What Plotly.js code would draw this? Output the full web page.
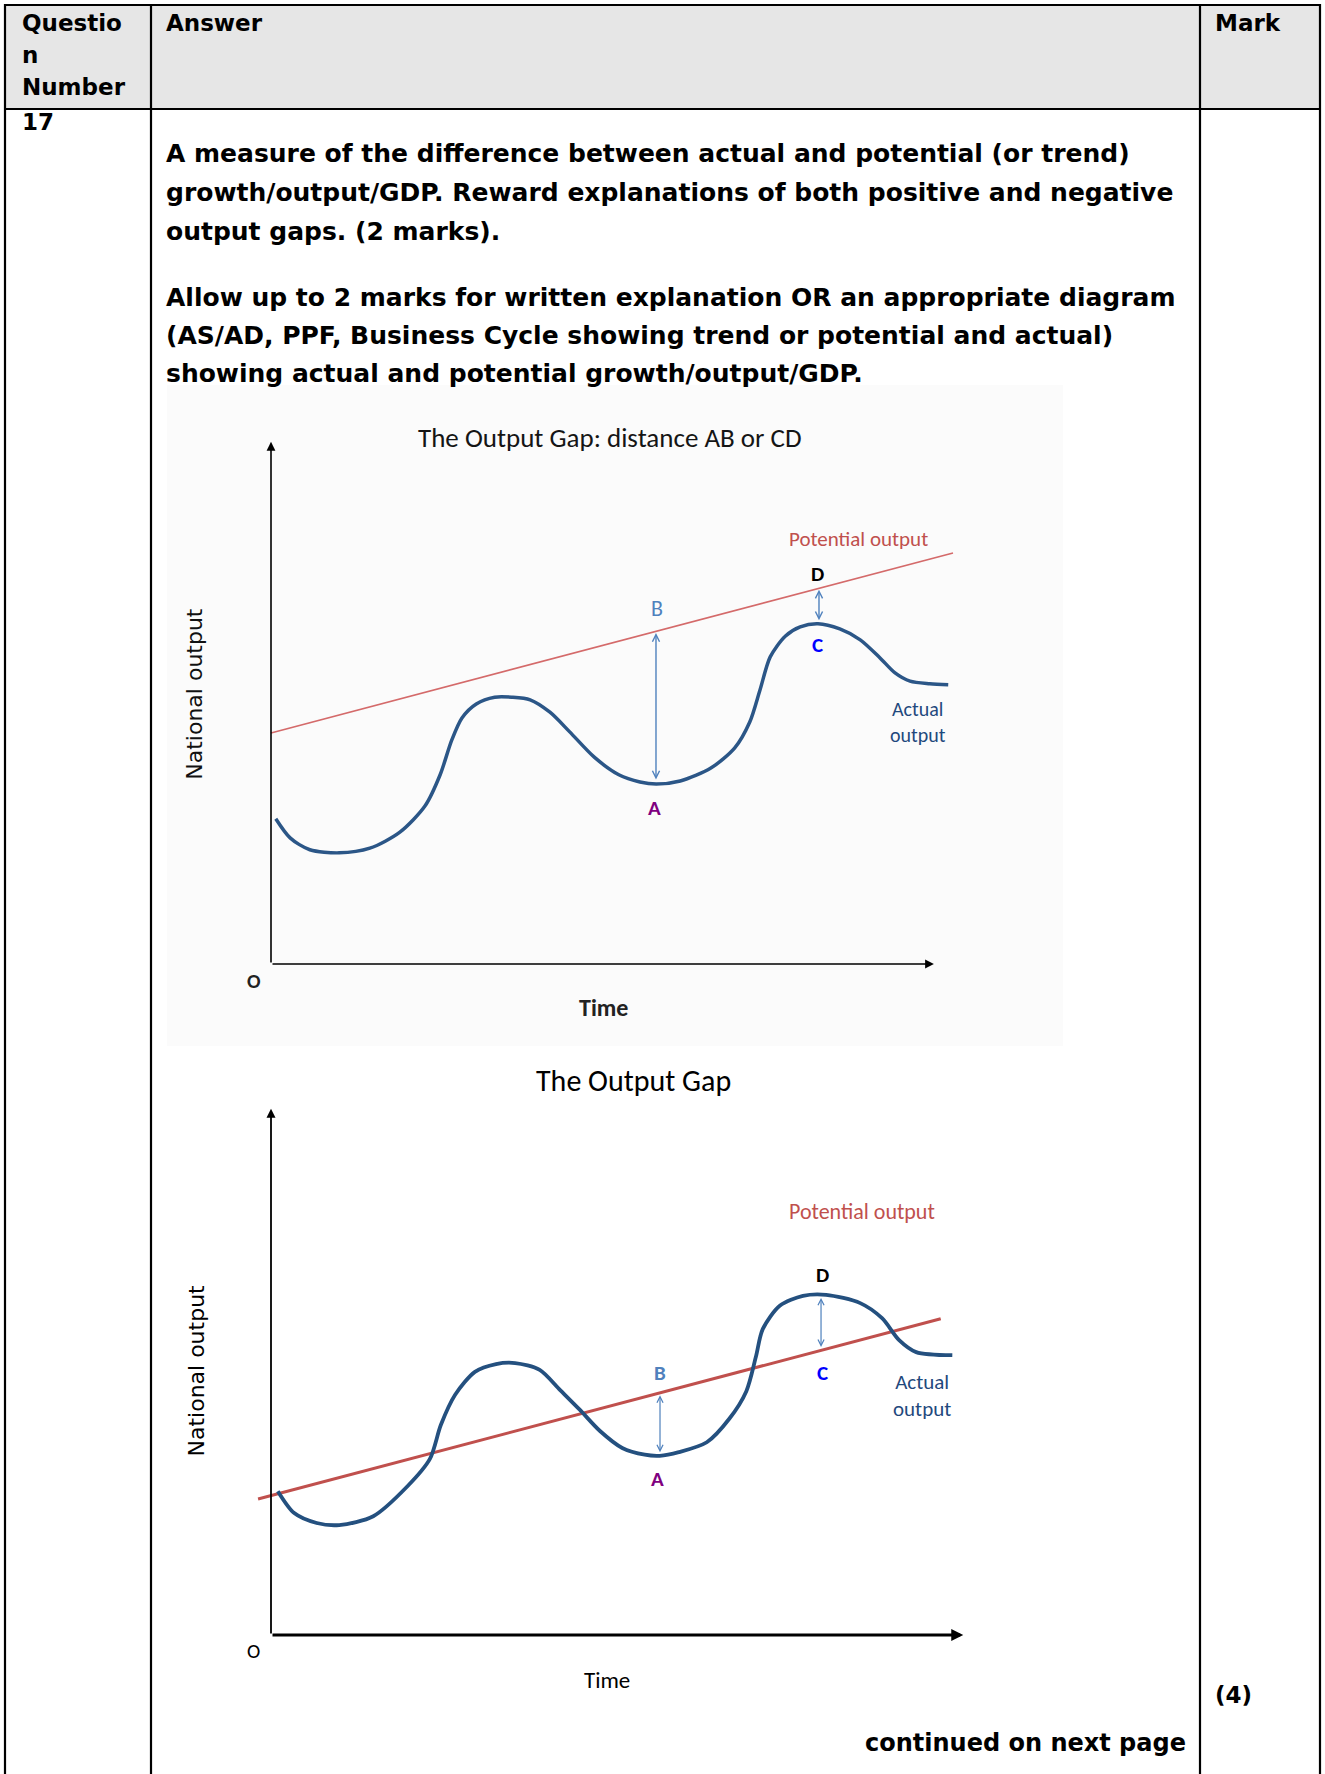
<!DOCTYPE html>
<html>
<head>
<meta charset="utf-8">
<script src="https://cdn.plot.ly/plotly-3.0.1.min.js"></script>
<style>
html,body{margin:0;padding:0;background:#fff;}
#page{width:1325px;height:1774px;}
</style>
</head>
<body>
<div id="page"></div>
<script>
// ---------- DATA ----------
// Diagram 1 (The Output Gap: distance AB or CD)
const d1Time   = [0.07,0.28,0.57,1.00,1.45,1.89,2.26,2.48,2.65,2.80,3.01,3.28,3.53,3.80,4.09,4.38,4.74,5.10,5.41,5.65,6.00,6.45,6.80,7.02,7.17,7.32,7.54,7.76,8.02,8.34,8.64,8.93,9.15,9.37,9.66,9.93];
const d1Actual = [2.81,2.44,2.21,2.15,2.24,2.55,3.06,3.66,4.33,4.76,5.03,5.16,5.16,5.11,4.87,4.49,4.00,3.66,3.52,3.48,3.54,3.79,4.18,4.68,5.30,5.94,6.34,6.52,6.58,6.48,6.27,5.92,5.63,5.47,5.42,5.40];
const d1PotTime = [0, 10];
const d1Potential = [4.47, 7.95];
const d1GapX = [5.645, 8.035];
const d1GapTop = [6.40, 7.24];
const d1GapBottom = [3.54, 6.62];

// Diagram 2 (The Output Gap)
const d2Time   = [0.10,0.34,0.67,1.00,1.50,1.99,2.33,2.49,2.70,2.99,3.30,3.58,3.94,4.24,4.53,4.82,5.15,5.48,5.70,5.98,6.39,6.72,6.97,7.11,7.21,7.46,7.80,8.14,8.64,8.96,9.21,9.46,9.99];
const d2Actual = [2.76,2.34,2.15,2.11,2.28,2.84,3.38,4.03,4.61,5.05,5.20,5.22,5.09,4.70,4.32,3.92,3.59,3.46,3.44,3.51,3.70,4.15,4.68,5.34,5.87,6.32,6.51,6.53,6.37,6.08,5.66,5.43,5.37];
const d2PotTime = [-0.19, 9.82];
const d2Potential = [2.61, 6.07];
const d2GapX = [5.704, 8.065];
const d2GapTop = [4.60, 6.47];
const d2GapBottom = [3.48, 5.50];

// Text content
const headerQ = ['Questio', 'n', 'Number'];
const headerAnswer = 'Answer';
const headerMark = 'Mark';
const qNumber = '17';
const bodyLines = [
  'A measure of the difference between actual and potential (or trend)',
  'growth/output/GDP. Reward explanations of both positive and negative',
  'output gaps. (2 marks).',
  'Allow up to 2 marks for written explanation OR an appropriate diagram',
  '(AS/AD, PPF, Business Cycle showing trend or potential and actual)',
  'showing actual and potential growth/output/GDP.'
];
const markText = '(4)';
const contText = 'continued on next page';

// ---------- LAYOUT HELPERS ----------
const W = 1325, H = 1774;
const px = x => x / W;
const py = y => 1 - y / H;

const X0 = 271, XS = 68.2;            // pixel origin & px per time unit (both diagrams)
const XR = [-1.6, 10.5];
const Y1_0 = 964, Y1S = 51.7;          // diagram 1
const Y2_0 = 1635, Y2S = 52.1;         // diagram 2
const YR = [-1.3, 10.3];

const xDom = [px(X0 + XR[0]*XS), px(X0 + XR[1]*XS)];
const y1Dom = [py(Y1_0 - YR[0]*Y1S), py(Y1_0 - YR[1]*Y1S)];
const y2Dom = [py(Y2_0 - YR[0]*Y2S), py(Y2_0 - YR[1]*Y2S)];

const BODY = 'DejaVu Sans, Verdana, sans-serif';
const CAL = 'Carlito, Lato, sans-serif';

const navy = '#2b5687';
const red = '#c0504d';
const steel = '#4f81bd';

// ---------- TRACES ----------
const traces = [
  {x: d1PotTime, y: d1Potential, xaxis:'x', yaxis:'y', mode:'lines',
   line:{color:'#d46a6a', width:1.6}, hoverinfo:'skip'},
  {x: d1Time, y: d1Actual, xaxis:'x', yaxis:'y', mode:'lines',
   line:{color:navy, width:3.5, shape:'spline', smoothing:0.8}, hoverinfo:'skip'},
  {x: d2PotTime, y: d2Potential, xaxis:'x2', yaxis:'y2', mode:'lines',
   line:{color:red, width:3}, hoverinfo:'skip'},
  {x: d2Time, y: d2Actual, xaxis:'x2', yaxis:'y2', mode:'lines',
   line:{color:'#24507f', width:3.8, shape:'spline', smoothing:0.8}, hoverinfo:'skip'}
];

// ---------- SHAPES (table) ----------
const L = {color:'#000', width:2.2};
const shapes = [
  {type:'rect', xref:'paper', yref:'paper', x0:px(5), x1:px(1320), y0:py(5), y1:py(109),
   fillcolor:'#e6e6e6', line:{width:0}, layer:'below'},
  {type:'rect', xref:'paper', yref:'paper', x0:px(167), x1:px(1063), y0:py(385), y1:py(1046),
   fillcolor:'#fbfbfb', line:{width:0}, layer:'below'},
  {type:'line', xref:'paper', yref:'paper', x0:px(4), x1:px(1321), y0:py(5), y1:py(5), line:L},
  {type:'line', xref:'paper', yref:'paper', x0:px(4), x1:px(1321), y0:py(109), y1:py(109), line:L},
  {type:'line', xref:'paper', yref:'paper', x0:px(5), x1:px(5), y0:py(4), y1:py(1774), line:L},
  {type:'line', xref:'paper', yref:'paper', x0:px(151), x1:px(151), y0:py(4), y1:py(1774), line:L},
  {type:'line', xref:'paper', yref:'paper', x0:px(1200), x1:px(1200), y0:py(4), y1:py(1774), line:L},
  {type:'line', xref:'paper', yref:'paper', x0:px(1320), x1:px(1320), y0:py(4), y1:py(1774), line:L}
];

// ---------- ANNOTATIONS ----------
const ann = [];
function ptext(t, x, y, size, opts) {
  opts = opts || {};
  ann.push(Object.assign({xref:'paper', yref:'paper', x:px(x), y:py(y), text:t, showarrow:false,
    xanchor:'left', yanchor:'middle', font:{family:BODY, size:size, color:'#000'}}, opts));
}
headerQ.forEach((t,i) => ptext('<b>'+t+'</b>', 20, [23,55,87][i], 23));
ptext('<b>'+headerAnswer+'</b>', 164, 23, 23);
ptext('<b>'+headerMark+'</b>', 1213, 23, 23);
ptext('<b>'+qNumber+'</b>', 20, 122, 23);
const bodyY = [153,192,232,297,336,373];
bodyLines.forEach((t,i) => ptext('<b>'+t+'</b>', 164, bodyY[i], 25));
ptext('<b>'+markText+'</b>', 1213, 1695, 23);
ptext('<b>'+contText+'</b>', 1188, 1743, 24, {xanchor:'right'});

// diagram titles
ptext('The Output Gap: distance AB or CD', 610, 438, 27, {xanchor:'center', font:{family:CAL, size:27, color:'#151515'}});
ptext('The Output Gap', 633, 1080, 30, {xanchor:'center', font:{family:CAL, size:30, color:'#000'}});

function dtext(t, x, y, ax, size, color, opts) {
  ann.push(Object.assign({xref:ax[0], yref:ax[1], x:x, y:y, text:t, showarrow:false,
    xanchor:'center', yanchor:'middle', font:{family:CAL, size:size, color:color}}, opts||{}));
}
function darrow(x, y, tx, ty, ax, color, width, head, size, both) {
  ann.push({xref:ax[0], yref:ax[1], axref:ax[0], ayref:ax[1], x:x, y:y, ax:tx, ay:ty, text:'',
    showarrow:true, arrowhead:head, startarrowhead:head, arrowsize:size, startarrowsize:size,
    arrowwidth:width, arrowcolor:color, arrowside: both ? 'end+start' : 'end', standoff:0, startstandoff:0});
}

// Diagram 1 decorations
const A1 = ['x','y'];
darrow(0, 10.1, 0, 0, A1, '#000', 1.6, 2, 1.1, false);
darrow(9.72, 0, 0, 0, A1, '#000', 1.6, 2, 1.1, false);
darrow(d1GapX[0], d1GapTop[0], d1GapX[0], d1GapBottom[0], A1, steel, 1.4, 5, 1.0, true);
darrow(d1GapX[1], d1GapTop[1], d1GapX[1], d1GapBottom[1], A1, steel, 1.4, 5, 1.0, true);
dtext('<b>O</b>', -0.25, -0.33, A1, 20, '#222');
dtext('<b>Time</b>', 4.88, -0.85, A1, 24, '#222');
dtext('National output', -1.12, 5.22, A1, 22, '#111', {textangle:-90, font:{family:BODY, size:22, color:'#111'}});
dtext('B', 5.66, 6.87, A1, 22, steel);
dtext('<b>D</b>', 8.02, 7.54, A1, 21, '#000');
dtext('<b>C</b>', 8.02, 6.17, A1, 21, '#0000ff');
dtext('<b>A</b>', 5.63, 3.02, A1, 21, '#800080');
dtext('Potential output', 8.62, 8.22, A1, 21, '#c0504d');
dtext('Actual<br>output', 9.48, 4.68, A1, 20, '#1f497d');

// Diagram 2 decorations
const A2 = ['x2','y2'];
darrow(0, 10.1, 0, 0, A2, '#000', 1.8, 2, 1.0, false);
darrow(10.15, 0, 0, 0, A2, '#000', 3, 2, 0.8, false);
darrow(d2GapX[0], d2GapTop[0], d2GapX[0], d2GapBottom[0], A2, steel, 1.2, 5, 1.0, true);
darrow(d2GapX[1], d2GapTop[1], d2GapX[1], d2GapBottom[1], A2, steel, 1.2, 5, 1.0, true);
dtext('O', -0.25, -0.31, A2, 20, '#000');
dtext('Time', 4.93, -0.86, A2, 23, '#000');
dtext('National output', -1.09, 5.07, A2, 22, '#000', {textangle:-90, font:{family:BODY, size:22, color:'#000'}});
dtext('<b>B</b>', 5.70, 5.03, A2, 21, steel);
dtext('<b>A</b>', 5.66, 2.99, A2, 21, '#800080');
dtext('<b>D</b>', 8.08, 6.91, A2, 21, '#000');
dtext('<b>C</b>', 8.08, 5.03, A2, 21, '#0000ff');
dtext('Potential output', 8.67, 8.12, A2, 22, '#c0504d');
dtext('Actual<br>output', 9.55, 4.59, A2, 21, '#1f497d');

const axBase = {visible:false, showgrid:false, zeroline:false, fixedrange:true};
const layout = {
  width: W, height: H,
  margin: {l:0, r:0, t:0, b:0, pad:0},
  paper_bgcolor: '#ffffff',
  plot_bgcolor: 'rgba(0,0,0,0)',
  showlegend: false,
  xaxis: Object.assign({}, axBase, {domain: xDom, range: XR, anchor:'y'}),
  yaxis: Object.assign({}, axBase, {domain: y1Dom, range: YR, anchor:'x'}),
  xaxis2: Object.assign({}, axBase, {domain: xDom, range: XR, anchor:'y2'}),
  yaxis2: Object.assign({}, axBase, {domain: y2Dom, range: YR, anchor:'x2'}),
  shapes: shapes,
  annotations: ann
};
Plotly.newPlot('page', traces, layout, {staticPlot:true, displayModeBar:false});
</script>
</body>
</html>
